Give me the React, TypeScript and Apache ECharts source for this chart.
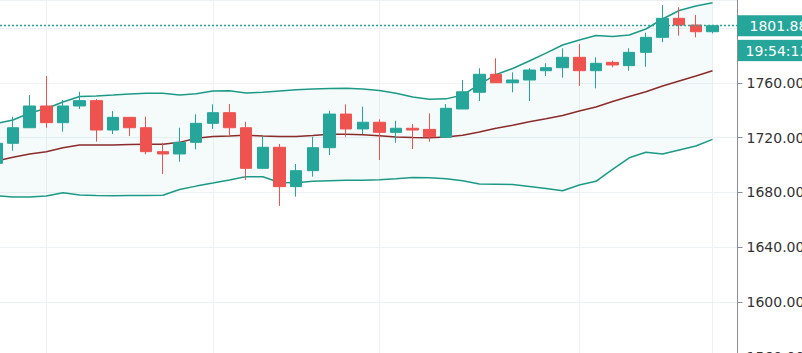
import React, { useEffect, useRef } from "react";
import * as echarts from "echarts";

// [open, close, low, high]
const candles: number[][] = [
  [1701.3, 1715.9, 1699.5, 1717.5],
  [1715.9, 1727.3, 1710.5, 1735.4],
  [1727.3, 1743.2, 1727.3, 1751.2],
  [1743.2, 1731.0, 1727.3, 1765.1],
  [1731.0, 1743.2, 1724.4, 1747.6],
  [1743.2, 1747.1, 1741.0, 1753.6],
  [1747.1, 1725.6, 1717.1, 1748.3],
  [1725.6, 1734.9, 1722.7, 1739.5],
  [1734.9, 1727.3, 1721.2, 1735.0],
  [1727.3, 1709.8, 1707.9, 1735.4],
  [1709.8, 1708.1, 1693.5, 1716.3],
  [1708.1, 1716.6, 1702.4, 1727.3],
  [1716.6, 1730.5, 1711.5, 1737.1],
  [1730.5, 1738.3, 1726.4, 1744.4],
  [1738.3, 1727.3, 1721.2, 1744.6],
  [1727.3, 1697.6, 1689.1, 1731.7],
  [1697.6, 1713.0, 1697.0, 1721.2],
  [1713.0, 1684.2, 1670.1, 1715.4],
  [1684.2, 1695.9, 1676.9, 1700.8],
  [1695.9, 1712.7, 1691.5, 1720.7],
  [1712.7, 1737.3, 1707.3, 1739.7],
  [1737.3, 1726.4, 1720.7, 1744.4],
  [1726.4, 1731.3, 1722.7, 1742.7],
  [1731.3, 1723.9, 1703.7, 1733.5],
  [1723.9, 1726.9, 1716.3, 1732.4],
  [1726.9, 1725.6, 1711.7, 1730.0],
  [1726.1, 1720.7, 1717.1, 1737.8],
  [1720.3, 1741.5, 1720.3, 1744.6],
  [1741.0, 1753.6, 1741.0, 1762.2],
  [1753.2, 1766.4, 1746.8, 1770.8],
  [1766.4, 1760.2, 1760.2, 1778.1],
  [1760.2, 1762.2, 1753.2, 1767.8],
  [1762.2, 1769.5, 1746.8, 1770.8],
  [1769.0, 1771.2, 1765.1, 1774.4],
  [1771.2, 1778.8, 1763.9, 1785.4],
  [1778.8, 1769.0, 1757.8, 1788.5],
  [1769.0, 1774.4, 1756.1, 1778.8],
  [1775.1, 1773.2, 1771.5, 1776.3],
  [1772.7, 1782.4, 1769.0, 1785.4],
  [1782.4, 1793.4, 1771.9, 1796.8],
  [1793.4, 1807.3, 1789.8, 1817.0],
  [1807.3, 1802.4, 1794.6, 1815.4],
  [1802.4, 1797.5, 1793.4, 1809.7],
  [1797.5, 1801.88, 1796.3, 1802.5],
];

const upperBand = [
  1730.4, 1732.9, 1738.1, 1741.4, 1746.1, 1750.1, 1750.5, 1751.2, 1752.0, 1752.5,
  1752.5, 1751.2, 1752.1, 1754.2, 1754.4, 1752.7, 1753.2, 1754.2, 1755.1, 1755.6,
  1756.0, 1756.1, 1755.6, 1754.5, 1752.5, 1749.8, 1748.2, 1748.4, 1751.2, 1759.0,
  1766.2, 1770.6, 1776.1, 1781.9, 1787.8, 1791.4, 1794.7, 1794.0, 1795.1, 1799.5,
  1806.8, 1813.0, 1816.3, 1818.7,
];

const middleBand = [
  1703.0, 1705.7, 1708.1, 1709.8, 1712.6, 1714.7, 1714.7, 1714.7, 1715.0, 1715.2,
  1715.2, 1716.6, 1719.6, 1720.9, 1721.2, 1721.8, 1721.2, 1720.9, 1720.9, 1721.6,
  1722.5, 1722.5, 1722.1, 1721.5, 1720.5, 1720.1, 1720.0, 1720.5, 1721.8, 1724.2,
  1726.9, 1729.1, 1731.6, 1733.8, 1736.2, 1739.5, 1742.4, 1746.5, 1750.1, 1753.6,
  1757.8, 1761.5, 1765.1, 1769.0,
];

const lowerBand = [
  1677.6, 1676.6, 1676.6, 1677.4, 1679.8, 1678.1, 1677.7, 1677.6, 1677.7, 1677.7,
  1677.9, 1682.1, 1684.6, 1686.8, 1689.1, 1691.5, 1691.5, 1687.3, 1687.1, 1688.1,
  1688.5, 1688.8, 1688.9, 1689.2, 1690.0, 1690.9, 1690.7, 1690.0, 1688.5, 1686.1,
  1686.0, 1685.8, 1684.4, 1682.8, 1681.2, 1685.4, 1688.1, 1696.9, 1705.3, 1709.3,
  1708.1, 1711.0, 1713.9, 1718.8,
];

const lastPrice = 1801.88;
const countdownLabel = "19:54:13";
const verticalGridIdx = [3, 13, 23, 35, 43];
const yMin = 1560;
const yMax = 1820.7;
const yStep = 40;
const hiddenTick = 1800; // covered by the last-price box in the original

// categories: one per bar plus one empty slot on the right
const categories = [...candles.map((_, i) => "b" + i), "next"];

const GREEN = "#26a69a";
const RED = "#ef5350";
const BAND = "#1c9a87";
const BASIS = "#8b2b2b";
const SHIFT = 12; // chart canvas starts 12px left of the window so the first bar is cut

export default function App() {
  const ref = useRef<HTMLDivElement>(null);
  useEffect(() => {
    if (!ref.current) return;
    const chart = echarts.init(ref.current, undefined, { renderer: "svg" });
    const bandDiff = upperBand.map((u, i) => +(u - lowerBand[i]).toFixed(2));
    chart.setOption({
      animation: false,
      backgroundColor: "#ffffff",
      grid: {
        left: 0,
        right: 64.5,
        top: 0,
        height: 356.5,
        containLabel: false,
        outerBoundsMode: "none",
      },
      xAxis: {
        type: "category",
        data: categories,
        boundaryGap: true,
        axisLine: { show: false },
        axisTick: { show: false },
        axisLabel: { show: false },
        splitLine: {
          show: true,
          alignWithLabel: true,
          interval: (idx: number) => verticalGridIdx.includes(idx),
          lineStyle: { color: "#eef1f5", width: 1 },
        },
      },
      yAxis: {
        type: "value",
        position: "right",
        min: yMin,
        max: yMax,
        interval: yStep,
        axisLine: { show: true, lineStyle: { color: "#8a8d94", width: 1 } },
        axisTick: { show: true, length: 5, lineStyle: { color: "#8a8d94" } },
        axisLabel: {
          show: true,
          showMaxLabel: false,
          margin: 9,
          color: "#333333",
          fontSize: 14,
          fontFamily: "DejaVu Sans",
          formatter: (v: number) => (Math.abs(v - hiddenTick) < 0.01 ? "" : v.toFixed(2)),
        },
        splitLine: { show: true, lineStyle: { color: "#eef1f5", width: 1 } },
      },
      series: [
        {
          name: "Lower",
          type: "line",
          data: lowerBand,
          stack: "bb",
          symbol: "none",
          lineStyle: { color: BAND, width: 1.5 },
          z: 1,
        },
        {
          name: "UpperFill",
          type: "line",
          data: bandDiff,
          stack: "bb",
          symbol: "none",
          lineStyle: { color: BAND, width: 1.5 },
          areaStyle: { color: "rgba(38,166,154,0.065)" },
          z: 1,
        },
        {
          name: "Basis",
          type: "line",
          data: middleBand,
          symbol: "none",
          lineStyle: { color: BASIS, width: 1.5 },
          z: 2,
        },
        {
          name: "Price",
          type: "candlestick",
          data: candles,
          barWidth: 12,
          z: 3,
          itemStyle: {
            color: GREEN,
            color0: RED,
            borderColor: GREEN,
            borderColor0: RED,
            borderWidth: 1,
          },
          markLine: {
            silent: true,
            symbol: ["none", "none"],
            data: [
              {
                yAxis: lastPrice,
                lineStyle: { color: GREEN, type: [2, 2], width: 1.3, opacity: 1 },
              },
            ],
            lineStyle: { color: GREEN, type: [2, 2], width: 1.3, opacity: 1 },
            label: {
              show: true,
              position: "end",
              distance: 0,
              formatter: lastPrice.toFixed(2),
              backgroundColor: GREEN,
              color: "#ffffff",
              fontSize: 14,
              fontFamily: "DejaVu Sans",
              padding: [3, 12, 4, 12],
            },
          },
        },
      ],
      graphic: [
        {
          type: "group",
          left: 737 + SHIFT,
          top: 39,
          children: [
            {
              type: "rect",
              shape: { x: 0, y: 0, width: 72, height: 22 },
              style: { fill: GREEN, stroke: "rgba(255,255,255,0.7)", lineWidth: 1 },
            },
            {
              type: "text",
              x: 8,
              y: 11,
              style: {
                text: countdownLabel,
                fill: "#ffffff",
                font: "14px 'DejaVu Sans'",
                verticalAlign: "middle",
              },
            },
          ],
        },
      ],
    });
    return () => chart.dispose();
  }, []);
  return (
    <div
      ref={ref}
      style={{ position: "fixed", left: -SHIFT, top: 0, width: 802 + SHIFT, height: 353 }}
    />
  );
}
